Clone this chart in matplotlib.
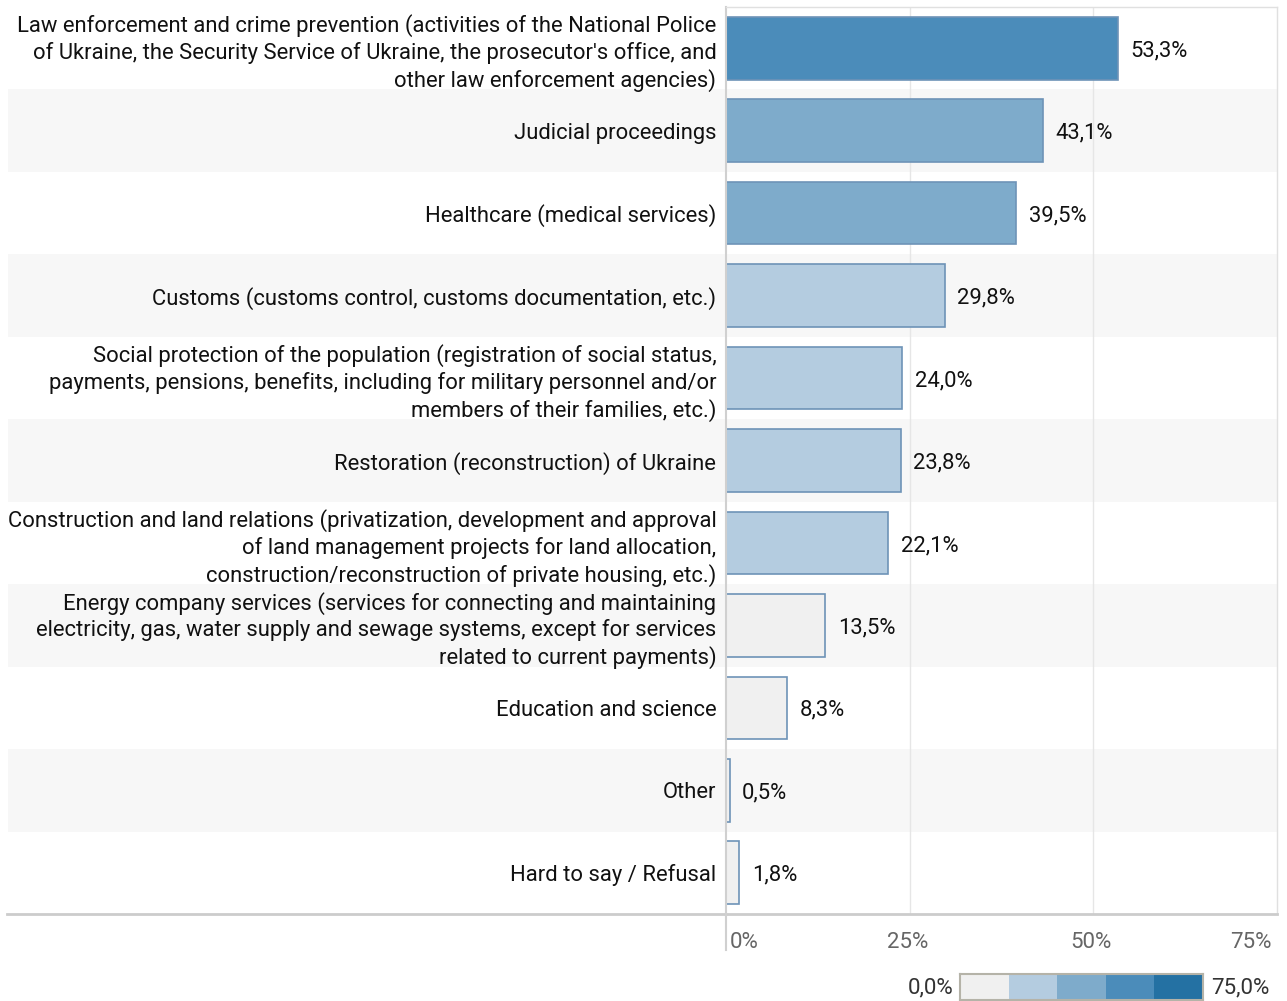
import numpy as np
import matplotlib.pyplot as plt
from matplotlib.patches import Rectangle

plt.rcParams['font.family'] = ['Roboto', 'DejaVu Sans']

categories = [
    "Law enforcement and crime prevention (activities of the National Police\nof Ukraine, the Security Service of Ukraine, the prosecutor's office, and\nother law enforcement agencies)",
    "Judicial proceedings",
    "Healthcare (medical services)",
    "Customs (customs control, customs documentation, etc.)",
    "Social protection of the population (registration of social status,\npayments, pensions, benefits, including for military personnel and/or\nmembers of their families, etc.)",
    "Restoration (reconstruction) of Ukraine",
    "Construction and land relations (privatization, development and approval\nof land management projects for land allocation,\nconstruction/reconstruction of private housing, etc.)",
    "Energy company services (services for connecting and maintaining\nelectricity, gas, water supply and sewage systems, except for services\nrelated to current payments)",
    "Education and science",
    "Other",
    "Hard to say / Refusal",
]
values = [53.3, 43.1, 39.5, 29.8, 24.0, 23.8, 22.1, 13.5, 8.3, 0.5, 1.8]

# colour steps of the legend, 0..75 in five bins
bins = [0, 15, 30, 45, 60, 75]
bin_colors = ['#f0f0f0', '#b4cce0', '#7eabcb', '#4b8cba', '#2471a3']
edge = '#6e93b7'

def color_for(v):
    i = min(np.searchsorted(bins, v, side='right') - 1, 4)
    return bin_colors[i]

W, H = 1287, 1001
fig = plt.figure(figsize=(W / 100, H / 100), dpi=100)
x0, x1 = 726, 1277
y0, y1 = 7, 914
ax = fig.add_axes([x0 / W, 1 - y1 / H, (x1 - x0) / W, (y1 - y0) / H])

n = len(categories)
ypos = np.arange(n)
ax.set_xlim(0, 75)
ax.set_ylim(n - 0.5, -0.5)

# striped row backgrounds reaching back under the labels
xmin_ext = (8 - x0) / (x1 - x0)
for i in range(n):
    if i % 2 == 1:
        r = Rectangle((xmin_ext, i - 0.5), 1 - xmin_ext, 1,
                      transform=ax.get_yaxis_transform(), facecolor='#f7f7f7',
                      edgecolor='none', clip_on=False, zorder=0)
        ax.add_patch(r)

for g in [25, 50]:
    ax.axvline(g, color='#e6e6e6', lw=1, zorder=1)

ax.barh(ypos, values, height=0.76, color=[color_for(v) for v in values],
        edgecolor=edge, linewidth=1.2, zorder=2)

fs = 15.8
for y, v in zip(ypos, values):
    ax.text(v + 1.7, y, f"{v:.1f}%".replace('.', ','), va='center_baseline',
            ha='left', fontsize=fs, color='#111111', zorder=3)

ax.set_yticks(ypos)
ax.set_yticklabels(categories, fontsize=fs, color='#111111', linespacing=1.28)
ax.tick_params(axis='y', length=0, pad=7)
ax.set_xticks([])

for s in ['top', 'right']:
    ax.spines[s].set_color('#e0e0e0')
    ax.spines[s].set_linewidth(1)
ax.spines['left'].set_color('#d0d0d0')
ax.spines['left'].set_linewidth(1.5)
ax.spines['bottom'].set_visible(False)

# bottom rule across the full width and the axis extension below it
fig.add_artist(plt.Line2D([7 / W, x1 / W], [1 - y1 / H, 1 - y1 / H],
                          color='#cccccc', lw=2))
fig.add_artist(plt.Line2D([x0 / W, x0 / W], [1 - y1 / H, 1 - 950 / H],
                          color='#d0d0d0', lw=1.5))

# x tick labels
tick_vals = [0, 25, 50, 75]
aligns = ['left', 'center', 'center', 'right']
tick_y = -(942 - y1) / (y1 - y0)
for t, a in zip(tick_vals, aligns):
    off = {'left': 0.5, 'center': -0.3, 'right': -0.7}[a]
    ax.text(t + off, tick_y, f"{t}%", transform=ax.get_xaxis_transform(),
            ha=a, va='center', fontsize=16, color='#666666')

# legend colour bar
lx0, lx1, ly0, ly1 = 960, 1203, 974, 1000
lax = fig.add_axes([lx0 / W, 1 - ly1 / H, (lx1 - lx0) / W, (ly1 - ly0) / H])
for i, c in enumerate(bin_colors):
    lax.add_patch(Rectangle((bins[i], 0), bins[i + 1] - bins[i], 1,
                            facecolor=c, edgecolor='none'))
lax.set_xlim(0, 75)
lax.set_ylim(0, 1)
lax.set_xticks([])
lax.set_yticks([])
for s in lax.spines.values():
    s.set_color('#b5b3a8')
    s.set_linewidth(1.5)
fig.text((lx0 - 7) / W, 1 - 988 / H, "0,0%", ha='right', va='center',
         fontsize=16, color='#333333')
fig.text((lx1 + 8) / W, 1 - 988 / H, "75,0%", ha='left', va='center',
         fontsize=16, color='#333333')

fig.savefig('out.png', dpi=100)
